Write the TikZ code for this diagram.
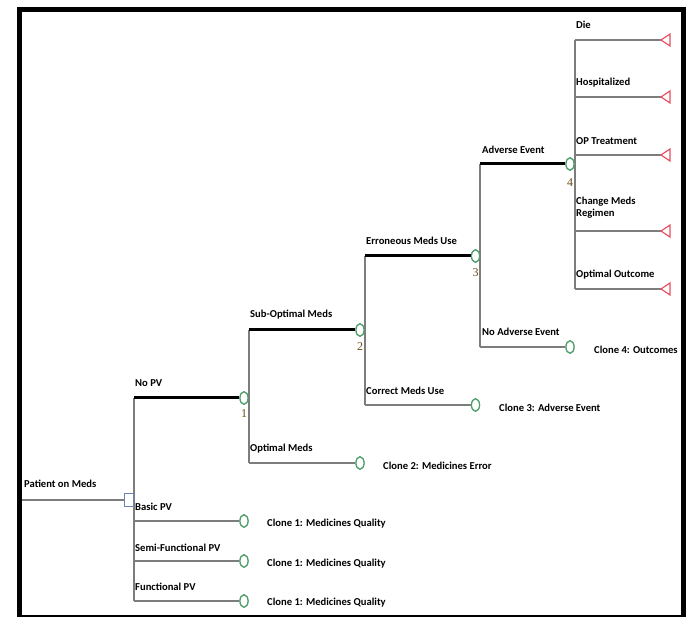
\documentclass[tikz,border=0pt]{standalone}
\usepackage{fontspec}
\setmainfont{Carlito}
\newfontfamily\numfont{Liberation Serif}
\usetikzlibrary{shapes.geometric}
\definecolor{lineg}{RGB}{125,125,125}
\definecolor{chanceg}{RGB}{80,160,110}
\definecolor{termr}{RGB}{230,80,100}
\definecolor{decb}{RGB}{110,130,180}
\definecolor{numc}{RGB}{105,75,20}
\tikzset{
  branch/.style={draw=lineg, line width=2pt},
  optbranch/.style={draw=black, line width=3pt},
  chance/.style={ellipse, draw=chanceg, fill=white, line width=1.2pt, minimum width=8pt, minimum height=12.5pt, inner sep=0pt},
  decision/.style={rectangle, draw=decb, fill=white, line width=1pt, minimum width=9pt, minimum height=13pt, inner sep=0pt},
  termtri/.style={draw=termr, fill=white, line width=1.2pt, line join=miter},
  lbl/.style={anchor=west, inner sep=0pt, font=\fontsize{10.6pt}{12.5pt}\selectfont\bfseries, align=left},
  clonelbl/.style={anchor=west, inner sep=0pt, font=\fontsize{10.6pt}{12.5pt}\selectfont\bfseries},
  numlbl/.style={inner sep=0pt, text=numc, font=\numfont\fontsize{12pt}{14pt}\selectfont}
}
\begin{document}
\begin{tikzpicture}[x=1pt, y=-1pt]
\useasboundingbox (0,0) rectangle (688,617);
% frame
\node[draw=black, line width=5pt, minimum width=663.5pt, minimum height=608pt, inner sep=0pt] (frame) at (351.25,313.5) {};

% nodes
\coordinate (root) at (22,500);
\node[decision] (d0) at (129,500) {};
\node[chance] (c1) at (244,398) {};
\node[chance] (c2) at (360,330) {};
\node[chance] (c3) at (475.5,256) {};
\node[chance] (c4) at (570,164) {};
\node[chance] (k1) at (244,521) {};
\node[chance] (k2) at (244,561) {};
\node[chance] (k3) at (244,601) {};
\node[chance] (k4) at (360,463) {};
\node[chance] (k5) at (475.5,405) {};
\node[chance] (k6) at (570,347) {};
\coordinate (t1) at (661,40);
\coordinate (t2) at (661,97);
\coordinate (t3) at (661,155);
\coordinate (t4) at (661,231);
\coordinate (t5) at (661,289);

% root
\draw[branch] (root) -- (d0.west);
% spines
\draw[branch] (d0.east |- c1) -- (d0.east |- k3);
\draw[branch] (c1.east |- c2) -- (c1.east |- k4);
\draw[branch] (c2.east |- c3) -- (c2.east |- k5);
\draw[branch] (c3.east |- c4) -- (c3.east |- k6);
\draw[branch] (c4.east |- t1) -- (c4.east |- t5);
% branches
\draw[optbranch] (d0.east |- c1) -- (c1.west);
\draw[branch] (d0.east |- k1) -- (k1.west);
\draw[branch] (d0.east |- k2) -- (k2.west);
\draw[branch] (d0.east |- k3) -- (k3.west);
\draw[optbranch] (c1.east |- c2) -- (c2.west);
\draw[branch] (c1.east |- k4) -- (k4.west);
\draw[optbranch] (c2.east |- c3) -- (c3.west);
\draw[branch] (c2.east |- k5) -- (k5.west);
\draw[optbranch] (c3.east |- c4) -- (c4.west);
\draw[branch] (c3.east |- k6) -- (k6.west);
\foreach \t in {t1,t2,t3,t4,t5}{
  \draw[branch] (c4.east |- \t) -- (\t);
  \draw[termtri] (\t) -- ++(9,-6) -- ++(0,12) -- cycle;
}
% redraw nodes on top
\node[decision] at (d0) {};
\foreach \c in {c1,c2,c3,c4,k1,k2,k3,k4,k5,k6}{\node[chance] at (\c) {};}

% labels
\node[lbl] (lroot) at (24,484) {Patient on Meds};
\node[lbl] (lnopv) at (135,383) {No PV};
\node[lbl] (lbasic) at (135,507) {Basic PV};
\node[lbl] (lsemi) at (135,548) {Semi-Functional PV};
\node[lbl] (lfunc) at (135,587) {Functional PV};
\node[lbl] (lsub) at (250,315) {Sub-Optimal Meds};
\node[lbl] (lopt) at (250,449) {Optimal Meds};
\node[lbl] (lerr) at (366,241) {Erroneous Meds Use};
\node[lbl] (lcor) at (366,391) {Correct Meds Use};
\node[lbl] (lae) at (482,150) {Adverse Event};
\node[lbl] (lnae) at (482,332) {No Adverse Event};
\node[lbl] (ldie) at (576,25) {Die};
\node[lbl] (lhosp) at (576,83) {Hospitalized};
\node[lbl] (lop) at (576,141) {OP Treatment};
\node[lbl] (lchg) at (576,207.5) {Change Meds\\Regimen};
\node[lbl] (loo) at (576,275) {Optimal Outcome};

\node[clonelbl] (q1) at (267,524) {Clone 1: Medicines Quality};
\node[clonelbl] (q2) at (267,564) {Clone 1: Medicines Quality};
\node[clonelbl] (q3) at (267,603) {Clone 1: Medicines Quality};
\node[clonelbl] (q4) at (383,466) {Clone 2: Medicines Error};
\node[clonelbl] (q5) at (499,408) {Clone 3: Adverse Event};
\node[clonelbl] (q6) at (594,350) {Clone 4: Outcomes};

\node[numlbl] (n1) at (244,414) {1};
\node[numlbl] (n2) at (360,347) {2};
\node[numlbl] (n3) at (475.5,273) {3};
\node[numlbl] (n4) at (570,183) {4};
\end{tikzpicture}
\end{document}
